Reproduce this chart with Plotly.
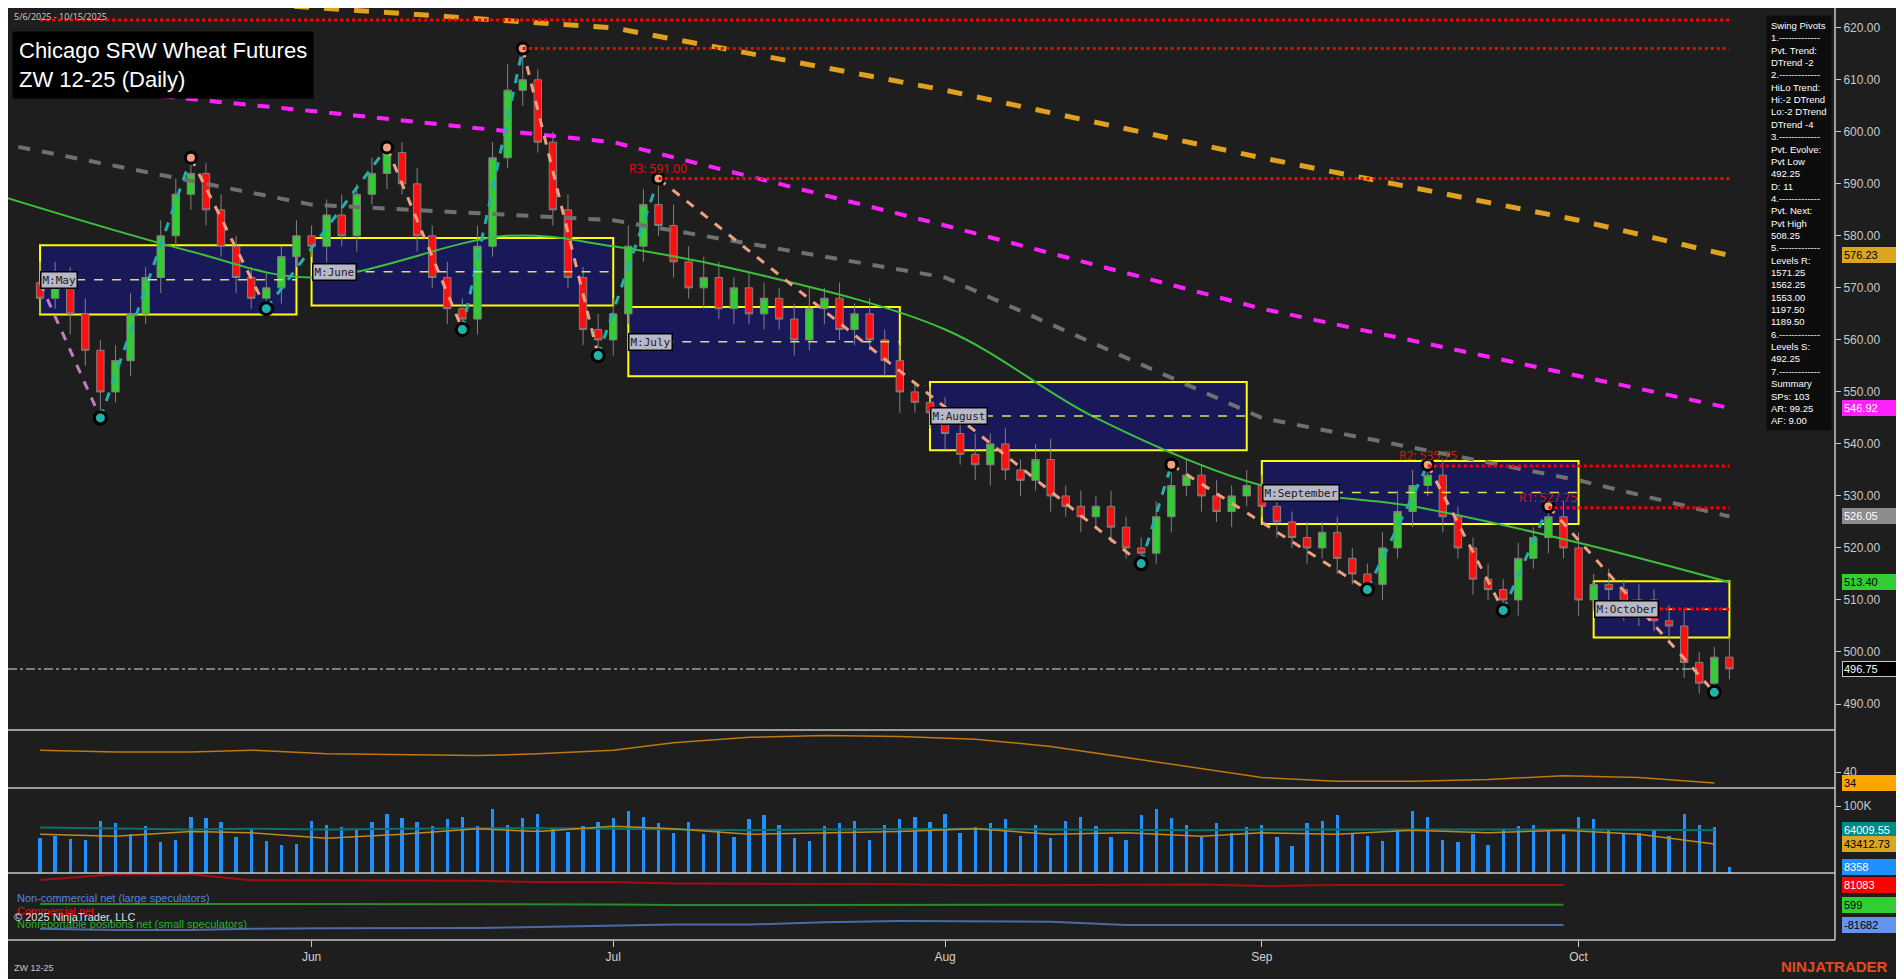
import plotly.graph_objects as go
from plotly.subplots import make_subplots
import pandas as pd

# trading days, holidays removed
HOLIDAYS = ["2025-05-26", "2025-06-19", "2025-07-04", "2025-09-01"]
dates = [d.strftime("%Y-%m-%d") for d in pd.bdate_range("2025-05-06", "2025-10-15")
         if d.strftime("%Y-%m-%d") not in HOLIDAYS]

closes = [568, 572, 565, 558, 550, 556, 565, 572, 580, 588, 592, 585, 578, 572, 568, 570, 576, 580,
          578, 584, 580, 588, 592, 596, 590, 580, 572, 566, 564, 578, 595, 608, 610, 598, 585, 572, 562, 560,
          565, 578, 586, 582, 575, 570, 572, 566, 570, 565, 568, 564, 560, 566, 568, 562, 565, 560, 556, 550, 548, 546,
          542, 538, 536, 540, 535, 533, 537, 530, 528, 526, 528, 524, 520, 519, 526, 532, 534, 530, 527, 530, 532,
          528, 525, 522, 520, 523, 518, 515, 513, 520, 527, 532, 534, 526, 520, 514, 512, 510, 518, 522, 526, 520,
          510, 513, 512, 508, 510, 506, 505, 498, 494, 499, 496.75]
first_open = 571
wick_up = [4, 3, 2, 3, 2, 3, 4, 2, 3, 3, 3, 2, 3, 2, 2, 3, 2, 3,
           2, 3, 4, 2, 3, 1, 2, 3, 2, 3, 2, 4, 3, 5, 6, 2, 2, 3, 2, 3,
           3, 4, 3, 5, 4, 3, 4, 3, 2, 3, 3, 2, 3, 4, 2, 3, 2, 3, 2, 3, 2, 3,
           3, 2, 4, 2, 3, 2, 3, 4, 2, 3, 2, 3, 2, 2, 3, 4, 3, 2, 3, 2, 3,
           2, 3, 2, 3, 2, 3, 2, 2, 3, 4, 3, 2, 3, 2, 2, 3, 2, 3, 2, 2, 3,
           3, 2, 3, 2, 3, 2, 3, 3, 2, 2, 4]
wick_dn = [3, 2, 4, 3, 5, 2, 3, 2, 3, 2, 3, 3, 2, 3, 2, 2, 3, 2,
           2, 3, 2, 3, 2, 3, 2, 3, 2, 3, 2, 3, 2, 2, 3, 2, 3, 2, 3, 3,
           3, 2, 3, 2, 3, 2, 4, 2, 3, 2, 3, 2, 3, 2, 3, 2, 3, 2, 3, 4, 2, 3,
           3, 2, 3, 4, 2, 3, 2, 3, 2, 3, 2, 3, 2, 3, 2, 3, 2, 3, 2, 3, 2,
           2, 3, 2, 3, 2, 3, 2, 1, 3, 2, 3, 2, 3, 2, 3, 2, 2, 3, 2, 3, 2,
           3, 2, 3, 2, 3, 2, 3, 3, 2, 1.75, 2]
volume_k = [52, 56, 51, 50, 78, 74, 58, 70, 46, 50, 84, 82, 76, 54, 66, 48, 42, 44,
            78, 72, 68, 64, 76, 88, 82, 76, 70, 80, 84, 70, 96, 72, 82, 88, 66, 62, 70, 76,
            82, 92, 84, 74, 60, 76, 58, 66, 54, 80, 86, 72, 52, 48, 70, 74, 78, 50, 72, 80, 84, 76,
            88, 60, 68, 74, 80, 56, 72, 52, 78, 84, 70, 54, 50, 86, 96, 82, 72, 56, 74, 60, 68,
            72, 54, 40, 74, 78, 86, 60, 56, 48, 64, 92, 84, 50, 46, 58, 42, 66, 70, 72, 66, 58,
            84, 80, 64, 58, 60, 66, 56, 88, 72, 68, 8.358]

weeks = ["2025-05-06", "2025-05-13", "2025-05-20", "2025-05-27", "2025-06-03", "2025-06-10",
         "2025-06-17", "2025-06-24", "2025-07-01", "2025-07-08", "2025-07-15", "2025-07-22",
         "2025-07-29", "2025-08-05", "2025-08-12", "2025-08-19", "2025-08-26", "2025-09-02",
         "2025-09-09", "2025-09-16", "2025-09-23", "2025-09-30", "2025-10-07", "2025-10-14"]
osc = [52, 51, 51, 52, 50, 49.5, 49, 50, 52, 56, 59, 60, 59.5, 58, 54, 48, 42, 37,
       35, 35, 36, 38, 37, 34]
vol_avg_teal = [68, 66, 65, 66, 65, 66, 67, 67, 66, 65, 64, 65, 66, 66, 65, 64, 64, 65,
                65, 66, 66, 65, 64.5, 64.01]
vol_avg_orange = [58, 55, 62, 60, 52, 58, 66, 62, 70, 66, 58, 60, 62, 66, 58, 60, 55, 60,
                  58, 64, 60, 64, 58, 43.41]
cot_weeks = weeks[:22]
commercial = [101000, 125000, 125000, 100000, 100000, 100000, 98000, 93000, 93000, 87000,
              87000, 86000, 84000, 80000, 80000, 83000, 83000, 77000, 81083, 81083, 81083, 81083]
nonrep = [4000, 4000, 4000, 5000, 5000, 5000, 3000, 2000, 2000, 0, 0, 0, 0, 0, 0, 599,
          599, 599, 599, 599, 599, 599]
noncomm = [-97000, -102000, -102000, -97000, -95000, -95000, -94000, -90000, -86000, -80000,
           -80000, -70000, -65000, -65000, -68000, -81682, -81682, -81682, -81682, -81682,
           -81682, -81682]

# moving averages, anchor points
ma_dates = ["2025-05-01", "2025-06-02", "2025-07-01", "2025-08-01", "2025-09-02", "2025-10-01", "2025-10-15"]
ma_orange = [628, 624, 620, 608, 595, 583, 576.23]
ma_magenta = [610, 604, 598, 582, 566, 553, 546.92]
ma_gray = [598, 586, 583, 572, 545, 533, 526.05]
ma_green_dates = ["2025-05-01", "2025-05-20", "2025-06-02", "2025-06-20", "2025-07-01", "2025-07-15",
                  "2025-08-01", "2025-08-15", "2025-09-02", "2025-09-16", "2025-10-01", "2025-10-15"]
ma_green = [588, 577, 572, 580, 578, 573, 562, 545, 532, 528, 521, 513.4]

pivot_idx = [0, 4, 10, 15, 23, 28, 32, 37, 41, 73, 75, 88, 92, 97, 100, 111]
pivot_val = [571, 545, 595, 566, 597, 562, 616, 557, 591, 517, 536, 512, 536, 508, 528, 492.25]

box_names = ["M:May", "M:June", "M:July", "M:August", "M:September", "M:October"]
box_start = [0, 18, 39, 59, 81, 103]
box_end = [17, 38, 57, 80, 102, 112]
box_hi = [578.2, 579.6, 566.3, 551.9, 536.7, 513.6]
box_lo = [564.9, 566.6, 553.0, 538.8, 524.6, 502.8]

levels = [621.5, 616.0, 591.0, 535.75, 527.75, 508.25]
level_from = [0, 32, 41, 92, 100, 107]
level_text = ["", "", "R3: 591.00", "R2: 535.75", "R1: 527.75", ""]

BG = "#1e1e1e"
opens = [first_open] + closes[:-1]
highs = [max(o, c) + u for o, c, u in zip(opens, closes, wick_up)]
lows = [min(o, c) - d for o, c, d in zip(opens, closes, wick_dn)]

fig = make_subplots(rows=4, cols=1, shared_xaxes=True, vertical_spacing=0)

fig.add_trace(go.Scatter(x=ma_dates, y=ma_orange, mode="lines",
                         line=dict(color="#e0a020", width=5, dash="dash")), 1, 1)
fig.add_trace(go.Scatter(x=ma_dates, y=ma_magenta, mode="lines",
                         line=dict(color="#ff22ff", width=4, dash="dash")), 1, 1)
fig.add_trace(go.Scatter(x=ma_dates, y=ma_gray, mode="lines",
                         line=dict(color="#707070", width=4, dash="dash")), 1, 1)
fig.add_trace(go.Scatter(x=ma_green_dates, y=ma_green, mode="lines", line_shape="spline",
                         line=dict(color="#3cc03c", width=2)), 1, 1)

fig.add_trace(go.Candlestick(x=dates, open=opens, high=highs, low=lows, close=closes,
                             increasing=dict(line=dict(color="#808080", width=1), fillcolor="#32cd32"),
                             decreasing=dict(line=dict(color="#808080", width=1), fillcolor="#ff1010"),
                             whiskerwidth=0), 1, 1)

# zigzag legs
for k in range(len(pivot_idx) - 1):
    up = pivot_val[k + 1] > pivot_val[k]
    col = "#20b2aa" if up else "#f0a080"
    if k == 0:
        col = "#c080c0"
    fig.add_trace(go.Scatter(x=[dates[pivot_idx[k]], dates[pivot_idx[k + 1]]],
                             y=[pivot_val[k], pivot_val[k + 1]], mode="lines",
                             line=dict(color=col, width=3, dash="dash")), 1, 1)
hi_x = [dates[i] for i, p in zip(pivot_idx, range(len(pivot_val))) if p % 2 == 0 and p > 0]
hi_y = [v for v, p in zip(pivot_val, range(len(pivot_val))) if p % 2 == 0 and p > 0]
lo_x = [dates[i] for i, p in zip(pivot_idx, range(len(pivot_val))) if p % 2 == 1]
lo_y = [v for v, p in zip(pivot_val, range(len(pivot_val))) if p % 2 == 1]
fig.add_trace(go.Scatter(x=hi_x, y=hi_y, mode="markers",
                         marker=dict(color="#f0a080", size=11, line=dict(color="#000", width=3))), 1, 1)
fig.add_trace(go.Scatter(x=lo_x, y=lo_y, mode="markers",
                         marker=dict(color="#20b2aa", size=12, line=dict(color="#000", width=3))), 1, 1)

# oscillator panel
fig.add_trace(go.Scatter(x=weeks, y=osc, mode="lines", line=dict(color="#c07810", width=1.5)), 2, 1)

# volume panel
fig.add_trace(go.Bar(x=dates, y=[v * 1000 for v in volume_k], marker_color="#1e90ff",
                     marker_line_width=0, width=3600 * 1000 * 24 * 0.22), 3, 1)
fig.add_trace(go.Scatter(x=weeks, y=[v * 1000 for v in vol_avg_teal], mode="lines",
                         line=dict(color="#0a7070", width=2)), 3, 1)
fig.add_trace(go.Scatter(x=weeks, y=[v * 1000 for v in vol_avg_orange], mode="lines",
                         line=dict(color="#c08820", width=1.5)), 3, 1)

# COT panel
fig.add_trace(go.Scatter(x=cot_weeks, y=commercial, mode="lines", line=dict(color="#a01010", width=2)), 4, 1)
fig.add_trace(go.Scatter(x=cot_weeks, y=nonrep, mode="lines", line=dict(color="#2a8a2a", width=2)), 4, 1)
fig.add_trace(go.Scatter(x=cot_weeks, y=noncomm, mode="lines", line=dict(color="#4a6aa8", width=2)), 4, 1)

shapes = []
for n, s, e, h, l in zip(box_names, box_start, box_end, box_hi, box_lo):
    shapes.append(dict(type="rect", xref="x", yref="y", x0=dates[s], x1=dates[e], y0=l, y1=h,
                       fillcolor="rgba(25,25,100,0.85)", line=dict(color="#ffff00", width=2), layer="below"))
    shapes.append(dict(type="line", xref="x", yref="y", x0=dates[s], x1=dates[e], y0=(h + l) / 2,
                       y1=(h + l) / 2, line=dict(color="#e0e060", width=1.5, dash="dash")))
for lv, fr in zip(levels, level_from):
    shapes.append(dict(type="line", xref="x", yref="y", x0=dates[fr], x1=dates[-1], y0=lv, y1=lv,
                       line=dict(color="#ff0000", width=3, dash="dot")))
shapes.append(dict(type="line", xref="paper", yref="y", x0=0, x1=0.925, y0=closes[-1], y1=closes[-1],
                   line=dict(color="#a0a0a0", width=1.5, dash="dashdot")))
for yb in [0.2253, 0.1631, 0.0719, 0]:
    shapes.append(dict(type="line", xref="paper", yref="paper", x0=0, x1=1, y0=yb, y1=yb,
                       line=dict(color="#c8c8c8", width=1.5)))
shapes.append(dict(type="line", xref="paper", yref="paper", x0=1, x1=1, y0=0, y1=1,
                   line=dict(color="#c8c8c8", width=1.5)))

ann = []
for n, s, h, l in zip(box_names, box_start, box_hi, box_lo):
    ann.append(dict(x=dates[s], y=(h + l) / 2, xref="x", yref="y", text=n, showarrow=False,
                    xanchor="left", font=dict(family="DejaVu Sans Mono", size=11, color="#202020"),
                    bgcolor="#b8b8c8", bordercolor="#000", borderwidth=1.5, borderpad=1))
for lv, fr, t in zip(levels, level_from, level_text):
    if t:
        ann.append(dict(x=dates[fr], y=lv, xref="x", yref="y", text=t, showarrow=False,
                        xanchor="center", yanchor="bottom", font=dict(size=12, color="#e01010")))

info = ("Swing Pivots<br>1.-------------<br>Pvt. Trend:<br>DTrend -2<br>2.-------------<br>HiLo Trend:"
        "<br>Hi:-2 DTrend<br>Lo:-2 DTrend<br>DTrend -4<br>3.-------------<br>Pvt. Evolve:<br>Pvt Low"
        "<br>492.25<br>D: 11<br>4.-------------<br>Pvt. Next:<br>Pvt High<br>508.25<br>5.-------------"
        "<br>Levels R:<br>1571.25<br>1562.25<br>1553.00<br>1197.50<br>1189.50<br>6.-------------"
        "<br>Levels S:<br>492.25<br>7.-------------<br>Summary<br>SPs: 103<br>AR: 99.25<br>AF: 9.00")
ann.append(dict(x=0.962, y=0.993, xref="paper", yref="paper", text=info, showarrow=False, align="left",
                xanchor="left", yanchor="top", font=dict(family="Arial", size=9.5, color="#ffffff"),
                bgcolor="#0c0c0c", borderpad=4))
ann.append(dict(x=0.002, y=0.975, xref="paper", yref="paper", showarrow=False, align="left",
                xanchor="left", yanchor="top", bgcolor="#000000", borderpad=6,
                text="Chicago SRW Wheat Futures<br>ZW 12-25 (Daily)",
                font=dict(family="Arial", size=22, color="#ffffff")))
ann.append(dict(x=0.002, y=1.0, xref="paper", yref="paper", showarrow=False, xanchor="left",
                yanchor="top", text="5/6/2025 - 10/15/2025", font=dict(size=9, color="#d0d0d0")))

tags = [(576.23, "y", "#daa520", "#000"), (546.92, "y", "#ff22ff", "#fff"), (526.05, "y", "#8c8c8c", "#fff"),
        (513.40, "y", "#32cd32", "#000"), (496.75, "y", "#000000", "#fff"), (34, "y2", "#ffa500", "#000"),
        (64009.55, "y3", "#008b8b", "#fff"), (43412.73, "y3", "#daa520", "#000"), (8358, "y3", "#1e90ff", "#fff"),
        (81083, "y4", "#ff0000", "#fff"), (599, "y4", "#32cd32", "#000"), (-81682, "y4", "#6495ed", "#000")]
for v, yr, bg, fc in tags:
    txt = f"{v:.2f}" if yr in ("y",) or (yr == "y3" and v > 10000) else f"{v:g}"
    ann.append(dict(x=1.004, y=v, xref="paper", yref=yr, text=txt, showarrow=False, xanchor="left",
                    font=dict(family="Arial", size=11, color=fc), bgcolor=bg,
                    bordercolor="#c8c8c8" if bg == "#000000" else bg, borderwidth=1, width=58, align="left"))
for t, c, yy in [("Non-commercial net (large speculators)", "#5a82e0", 0.036),
                 ("Commercial net", "#ff0000", 0.022), ("Nonreportable positions net (small speculators)", "#2ab02a", 0.009)]:
    ann.append(dict(x=0.004, y=yy, xref="paper", yref="paper", text=t, showarrow=False, xanchor="left",
                    font=dict(family="Arial", size=11, color=c)))
ann.append(dict(x=0.002, y=0.016, xref="paper", yref="paper", text="© 2025 NinjaTrader, LLC", showarrow=False,
                xanchor="left", font=dict(family="Arial", size=11, color="#e0e0e0")))
ann.append(dict(x=0.002, y=-0.038, xref="paper", yref="paper", text="ZW 12-25", showarrow=False,
                xanchor="left", font=dict(family="Arial", size=9, color="#c8c8c8")))
ann.append(dict(x=1.03, y=-0.04, xref="paper", yref="paper", text="<b>NINJATRADER</b>", showarrow=False,
                xanchor="right", font=dict(family="Arial", size=15, color="#e84820")))

fig.update_layout(width=1904, height=979, margin=dict(l=0, r=77, t=0, b=47), showlegend=False,
                  paper_bgcolor=BG, plot_bgcolor=BG, shapes=shapes, annotations=ann, bargap=0)
xcommon = dict(showgrid=False, zeroline=False, rangeslider_visible=False,
               rangebreaks=[dict(bounds=["sat", "mon"]), dict(values=HOLIDAYS)],
               range=["2025-05-01 21:00", "2025-10-24"])
for i in range(1, 5):
    fig.update_xaxes(xcommon, row=i, col=1)
fig.update_xaxes(showticklabels=False, row=1, col=1)
fig.update_xaxes(tickvals=["2025-06-02", "2025-07-01", "2025-08-01", "2025-09-02", "2025-10-01"],
                 ticktext=["Jun", "Jul", "Aug", "Sep", "Oct"], ticks="outside", ticklen=6, tickcolor="#c8c8c8",
                 tickfont=dict(family="Arial", size=12, color="#d0d0d0"), row=4, col=1)
ycommon = dict(side="right", showgrid=False, zeroline=False, ticks="outside", ticklen=5, tickcolor="#c8c8c8",
               tickfont=dict(family="Arial", size=12, color="#c8c8c8"))
pt = list(range(490, 621, 10))
fig.update_yaxes(ycommon, range=[485, 623.8], tickvals=pt, ticktext=[f"{p:.2f}" for p in pt],
                 domain=[0.2253, 1], row=1, col=1)
fig.update_yaxes(ycommon, range=[31.3, 63], tickvals=[40], domain=[0.1631, 0.2253], row=2, col=1)
fig.update_yaxes(ycommon, range=[0, 127000], tickvals=[100000], ticktext=["100K"],
                 domain=[0.0719, 0.1631], row=3, col=1)
fig.update_yaxes(ycommon, range=[-142700, 129900], showticklabels=False, ticks="",
                 domain=[0, 0.0719], row=4, col=1)

fig.write_html("out.html")
